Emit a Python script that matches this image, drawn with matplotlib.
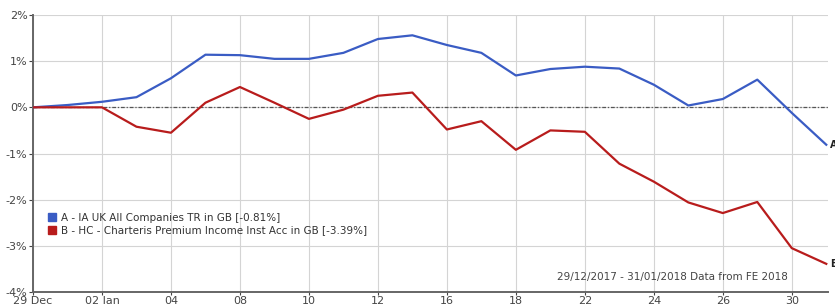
import numpy as np
import matplotlib.pyplot as plt
from matplotlib.lines import Line2D

# DATA (cumulative % performance, trading days 29/12/2017 - 31/01/2018)
dates = ["29 Dec", "01 Jan", "02 Jan", "03", "04", "05", "08", "09", "10", "11", "12",
         "15", "16", "17", "18", "19", "22", "23", "24", "25", "26", "29", "30", "31"]
series_a = [0.0, 0.05, 0.12, 0.22, 0.63, 1.14, 1.13, 1.05, 1.05, 1.18, 1.48,
            1.56, 1.35, 1.18, 0.69, 0.83, 0.88, 0.84, 0.49, 0.04, 0.18, 0.60, -0.12, -0.81]
series_b = [0.0, 0.0, 0.0, -0.42, -0.55, 0.10, 0.44, 0.10, -0.25, -0.05, 0.25,
            0.32, -0.48, -0.30, -0.92, -0.50, -0.53, -1.22, -1.61, -2.06, -2.29, -2.05, -3.05, -3.39]
label_a = "A - IA UK All Companies TR in GB [-0.81%]"
label_b = "B - HC - Charteris Premium Income Inst Acc in GB [-3.39%]"
tick_idx = [0, 2, 4, 6, 8, 10, 12, 14, 16, 18, 20, 22]
tick_labels = ["29 Dec", "02 Jan", "04", "08", "10", "12", "16", "18", "22", "24", "26", "30"]
y_ticks = [2, 1, 0, -1, -2, -3, -4]

blue = "#3a5cc4"
red = "#b81c1c"
x = np.arange(len(dates))

fig = plt.figure(figsize=(8.35, 3.04), dpi=100)
ax = fig.add_axes([33 / 835, 12 / 304, 795 / 835, 277 / 304])

ax.plot(x, series_a, color=blue, lw=1.6, zorder=3)
ax.plot(x, series_b, color=red, lw=1.6, zorder=3)
ax.axhline(0, color="#555555", lw=0.9, ls=(0, (3, 1.5, 1, 1.5)), zorder=2)

ax.set_xlim(0, 23.05)
ax.set_ylim(-4, 2)
ax.set_xticks(tick_idx)
ax.set_xticklabels(tick_labels)
ax.set_yticks(y_ticks)
ax.set_yticklabels([f"{v}%" for v in y_ticks])
ax.tick_params(axis="both", labelsize=8, colors="#444444", length=3, width=0.8, pad=1)
ax.tick_params(axis="x", length=2)
ax.grid(True, color="#d4d4d4", lw=0.8)

for s in ["top", "right"]:
    ax.spines[s].set_visible(False)
ax.spines["left"].set_color("#666666")
ax.spines["left"].set_linewidth(1.4)
ax.spines["bottom"].set_color("#666666")
ax.spines["bottom"].set_linewidth(1.4)

# end labels
ax.text(23.1, series_a[-1], "A", fontsize=7, fontweight="bold", color="#222222",
        va="center", ha="left", clip_on=False)
ax.text(23.1, series_b[-1], "B", fontsize=7, fontweight="bold", color="#222222",
        va="center", ha="left", clip_on=False)

handles = [Line2D([], [], ls="", marker="s", markersize=6, color=blue),
           Line2D([], [], ls="", marker="s", markersize=6, color=red)]
leg = ax.legend(handles, [label_a, label_b], loc="upper left", bbox_to_anchor=(0.015, 0.3),
                fontsize=7.5, frameon=False, handlelength=0.6, handletextpad=0.5,
                labelspacing=0.2, borderaxespad=0)
for t in leg.get_texts():
    t.set_color("#333333")

ax.text(0.95, 0.035, "29/12/2017 - 31/01/2018 Data from FE 2018", transform=ax.transAxes,
        fontsize=7.5, color="#444444", ha="right", va="bottom")

fig.savefig("out.png", dpi=100)
